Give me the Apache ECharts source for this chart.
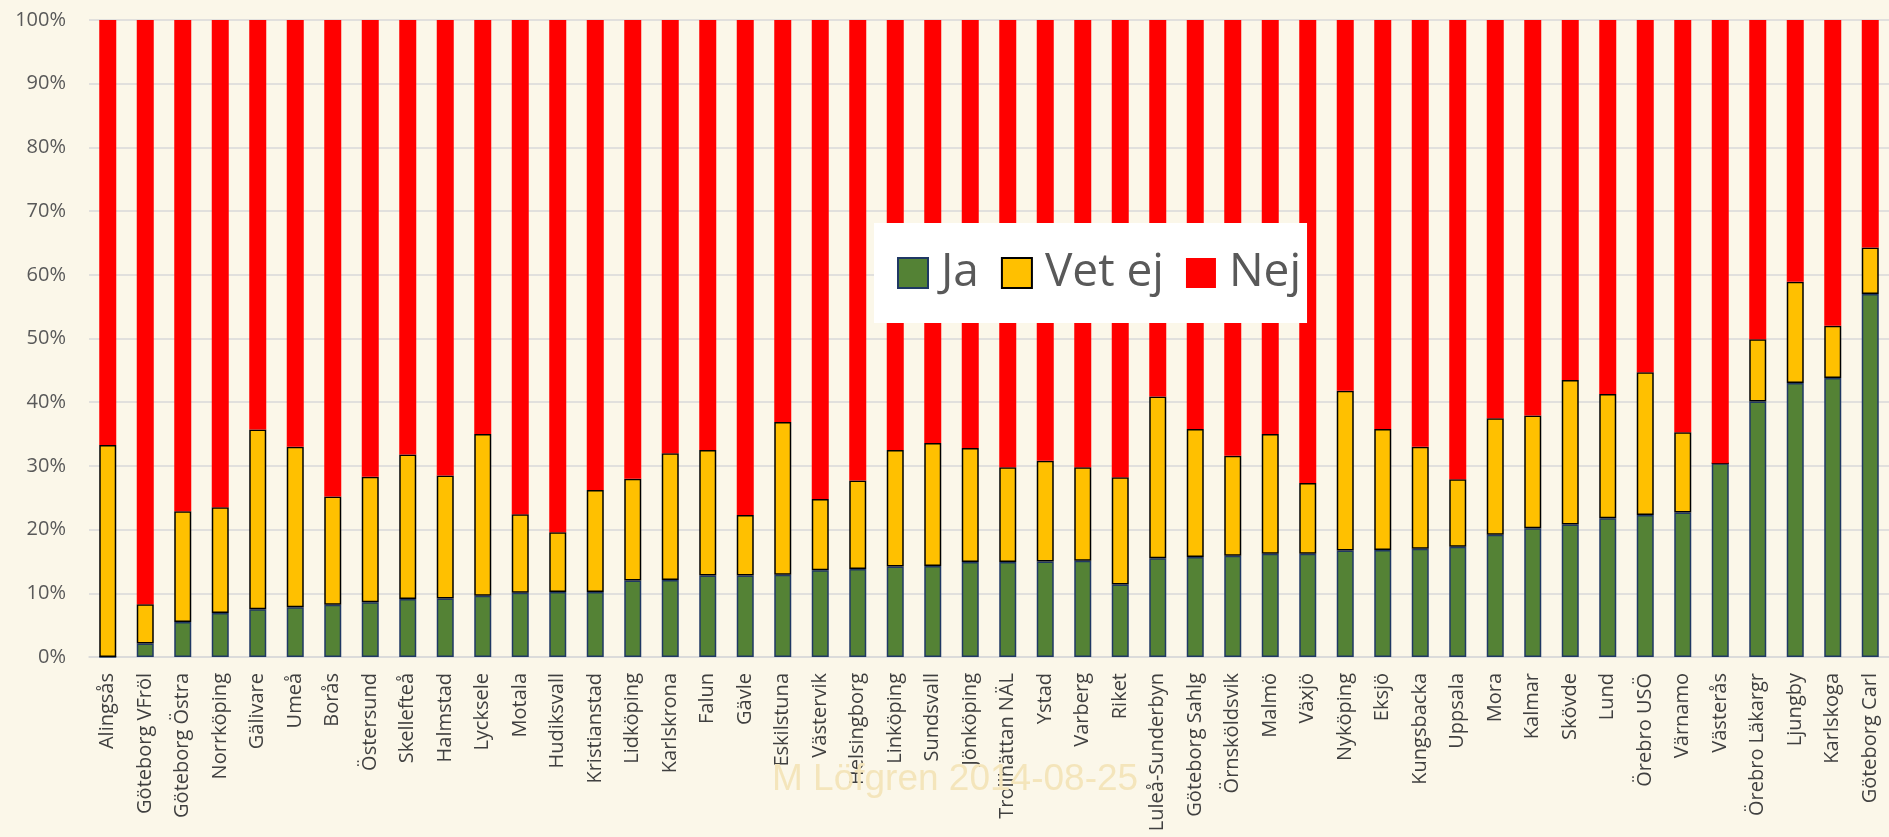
<!DOCTYPE html>
<html>
<head>
<meta charset="utf-8">
<script src="https://cdn.jsdelivr.net/npm/echarts@6/dist/echarts.min.js"></script>
<style>
  html, body { margin: 0; padding: 0; background: #fbf7e9; }
  #chart { width: 1889px; height: 837px; }
</style>
</head>
<body>
<div id="chart"></div>
<script>
// sjukhus / enheter
var categories = ['Alingsås', 'Göteborg VFröl', 'Göteborg Östra', 'Norrköping', 'Gälivare', 'Umeå', 'Borås',
  'Östersund', 'Skellefteå', 'Halmstad', 'Lycksele', 'Motala', 'Hudiksvall', 'Kristianstad', 'Lidköping',
  'Karlskrona', 'Falun', 'Gävle', 'Eskilstuna', 'Västervik', 'Helsingborg', 'Linköping', 'Sundsvall',
  'Jönköping', 'Trollhättan NÄL', 'Ystad', 'Varberg', 'Riket', 'Luleå-Sunderbyn', 'Göteborg Sahlg',
  'Örnsköldsvik', 'Malmö', 'Växjö', 'Nyköping', 'Eksjö', 'Kungsbacka', 'Uppsala', 'Mora', 'Kalmar',
  'Skövde', 'Lund', 'Örebro USÖ', 'Värnamo', 'Västerås', 'Örebro Läkargr', 'Ljungby', 'Karlskoga',
  'Göteborg Carl']

// andelar i procent
var ja = [0, 2.1, 5.5, 6.9, 7.5, 7.8, 8.2, 8.6, 9.1, 9.2, 9.6, 10.1, 10.2, 10.2, 12.0, 12.1, 12.8, 12.8,
  12.9, 13.6, 13.8, 14.2, 14.3, 14.9, 14.9, 15.0, 15.1, 11.4, 15.5, 15.7, 15.9, 16.2, 16.2, 16.7, 16.8,
  17.0, 17.3, 19.2, 20.2, 20.8, 21.8, 22.3, 22.7, 30.4, 40.1, 43.0, 43.8, 57.0]
var vetEj = [33.3, 6.2, 17.4, 16.6, 28.2, 25.2, 17.0, 19.7, 22.7, 19.3, 25.4, 12.3, 9.4, 16.0, 16.0, 19.9,
  19.7, 9.5, 24.0, 11.2, 13.9, 18.3, 19.3, 17.9, 14.9, 15.8, 14.7, 16.8, 25.4, 20.1, 15.7, 18.8, 11.1,
  25.1, 19.0, 16.0, 10.6, 18.3, 17.7, 22.7, 19.5, 22.4, 12.6, 0, 9.8, 15.9, 8.2, 7.3]
var nej = [66.7, 91.7, 77.1, 76.5, 64.3, 67.0, 74.8, 71.7, 68.2, 71.5, 65.0, 77.6, 80.4, 73.8, 72.0, 68.0,
  67.5, 77.7, 63.1, 75.2, 72.3, 67.5, 66.4, 67.2, 70.2, 69.2, 70.2, 71.8, 59.1, 64.2, 68.4, 65.0, 72.7,
  58.2, 64.2, 67.0, 72.1, 62.5, 62.1, 56.5, 58.7, 55.3, 64.7, 69.6, 50.1, 41.1, 48.0, 35.7]

var seriesNames = ['Ja', 'Vet ej', 'Nej']
var watermark = 'M Löfgren 2014-08-25'

var font = '"Open Sans", "Noto Sans", sans-serif'

let option = {
  backgroundColor: '#fbf7e9',
  animation: false,
  legend: {
    data: seriesNames,
    icon: 'rect',
    left: 874,
    top: 223,
    padding: [27, 6, 27, 23],
    backgroundColor: '#ffffff',
    itemWidth: 30,
    itemHeight: 30,
    itemGap: 22,
    textStyle: {
      fontFamily: font,
      fontSize: 46,
      lineHeight: 46,
      color: '#595959',
      padding: [0, 0, 0, 8]
    }
  },
  grid: {
    left: 89,
    right: -10,
    top: 20,
    bottom: 180
  },
  xAxis: {
    type: 'category',
    data: categories,
    axisLine: { lineStyle: { color: '#d9d9d9', width: 1.5 } },
    axisTick: { show: false },
    axisLabel: {
      interval: 0,
      rotate: 90,
      margin: 16,
      fontFamily: font,
      fontSize: 20,
      color: '#404040'
    }
  },
  yAxis: {
    type: 'value',
    min: 0,
    max: 100,
    interval: 10,
    axisLine: { show: false },
    axisTick: { show: false },
    splitLine: { lineStyle: { color: '#d9d9d9', width: 1.5 } },
    axisLabel: {
      formatter: '{value}%',
      margin: 23,
      fontFamily: font,
      fontSize: 20,
      color: '#595959'
    }
  },
  series: [{
    name: 'Ja',
    type: 'bar',
    stack: 'total',
    barWidth: 17,
    data: ja,
    itemStyle: { color: '#548235', borderColor: '#1f3864', borderWidth: 1.5 }
  }, {
    name: 'Vet ej',
    type: 'bar',
    stack: 'total',
    barWidth: 17,
    data: vetEj,
    itemStyle: { color: '#ffc000', borderColor: '#000000', borderWidth: 1.5 }
  }, {
    name: 'Nej',
    type: 'bar',
    stack: 'total',
    barWidth: 17,
    data: nej,
    itemStyle: { color: '#ff0000' }
  }],
  graphic: [{
    type: 'text',
    left: 772,
    top: 761,
    z: 100,
    style: {
      text: watermark,
      font: '37px "Liberation Sans", Arial, sans-serif',
      fill: '#f4e5bb'
    }
  }]
}

const myChart = echarts.init(document.getElementById('chart'))
myChart.setOption(option)
</script>
</body>
</html>
